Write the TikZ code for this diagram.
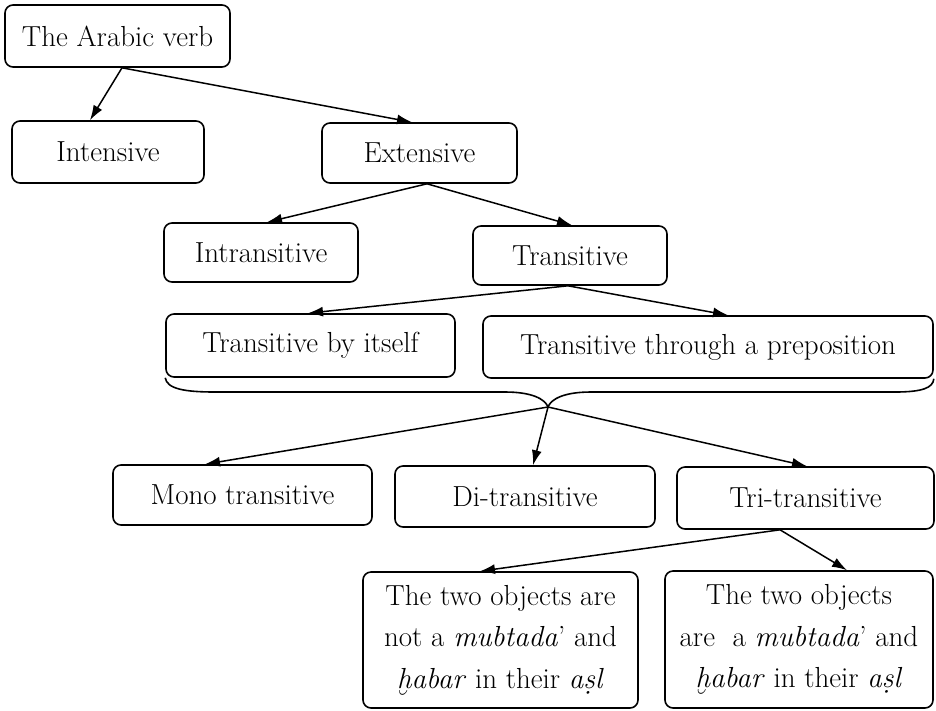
\documentclass[tikz,border=0pt]{standalone}
\usepackage{fontspec}
\usetikzlibrary{arrows.meta}
\begin{document}
\begin{tikzpicture}[x=1pt,y=-1pt,
  box/.style={draw=black,line width=1.6pt,rounded corners=8pt,inner sep=0pt,
    font=\fontsize{29}{41.5}\selectfont,align=center},
  arr/.style={line width=1.5pt,-{Latex[length=15pt,width=10pt]}}]
\useasboundingbox (0,0) rectangle (936,710);
\node[box,minimum width=225pt,minimum height=62pt] (verb) at (117.5,36) {The Arabic verb};
\node[box,minimum width=192pt,minimum height=62pt] (intens) at (108,152) {Intensive};
\node[box,minimum width=195pt,minimum height=60pt] (extens) at (419.5,153) {Extensive};
\node[box,minimum width=194pt,minimum height=59pt] (intrans) at (261,252.5) {Intransitive};
\node[box,minimum width=194pt,minimum height=59pt] (trans) at (570,255.5) {Transitive};
\node[box,minimum width=289pt,minimum height=63pt] (tbi) at (310.5,345.5) {Transitive by itself};
\node[box,minimum width=450pt,minimum height=62pt] (ttp) at (708,347) {Transitive through a preposition};
\node[box,minimum width=259pt,minimum height=60pt] (mono) at (242.5,495) {Mono transitive};
\node[box,minimum width=260pt,minimum height=61pt] (di) at (525,496.5) {Di-transitive};
\node[box,minimum width=257pt,minimum height=62pt] (tri) at (805.5,498) {Tri-transitive};
\node[box,minimum width=275pt,minimum height=136pt] (notm) at (500.5,640) {The two objects are\\not a \textit{mubtada}’ and\\\textit{ḫabar} in their \textit{aṣl}};
\node[box,minimum width=268pt,minimum height=137pt] (arem) at (799,639.5) {The two objects\\are\ \ a \textit{mubtada}’ and\\\textit{ḫabar} in their \textit{aṣl}};
% brace
\coordinate (tip) at (548,407);
\draw[line width=1.6pt] (tbi.south west) .. controls (167,389) and (185,392) .. (215,392)
  -- (505,392) .. controls (532,392) and (545,399) .. (tip)
  .. controls (551,399) and (564,392) .. (591,392)
  -- (895,392) .. controls (922,392) and (933,388) .. (ttp.south east);
% arrows
\draw[arr] ([xshift=4.5pt]verb.south) -- ([xshift=-18pt]intens.north);
\draw[arr] ([xshift=4.5pt]verb.south) -- ([xshift=-7.5pt]extens.north);
\draw[arr] ([xshift=7.5pt]extens.south) -- ([xshift=6pt]intrans.north);
\draw[arr] ([xshift=7.5pt]extens.south) -- ([xshift=2pt]trans.north);
\draw[arr] ([xshift=-2pt]trans.south) -- ([xshift=-2.5pt]tbi.north);
\draw[arr] ([xshift=-2pt]trans.south) -- ([xshift=20pt]ttp.north);
\draw[arr] (tip) -- ([xshift=-37.5pt]mono.north);
\draw[arr] (tip) -- ([xshift=8pt]di.north);
\draw[arr] (tip) -- ([xshift=1.5pt]tri.north);
\draw[arr] ([xshift=-25.5pt]tri.south) -- ([xshift=-20.5pt]notm.north);
\draw[arr] ([xshift=-25.5pt]tri.south) -- ([xshift=48pt]arem.north);
\end{tikzpicture}
\end{document}
